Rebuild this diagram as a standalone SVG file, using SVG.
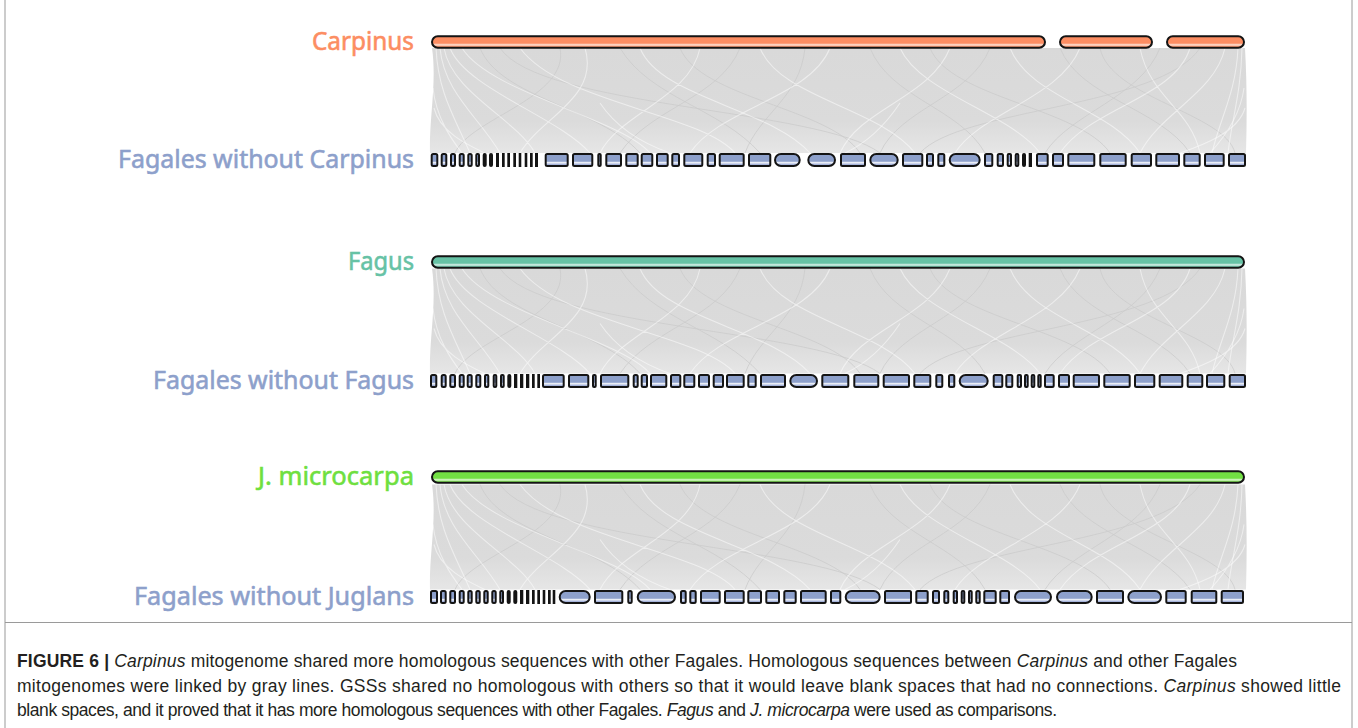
<svg xmlns="http://www.w3.org/2000/svg" width="1358" height="728" viewBox="0 0 1358 728">
<style>
  .lab{font-family:"Noto Sans","Open Sans",sans-serif;font-size:26px;text-anchor:end;stroke-width:.6}
  .cap{font-family:"Liberation Sans Narrow","Liberation Sans",Arial,sans-serif;font-size:17.5px;fill:#231f20}
  .s{fill:url(#gB);stroke:#141414;stroke-width:2}
  .chr{stroke:#141414;stroke-width:2}
  .lw{fill:none;stroke:#ffffff;stroke-width:1.1;stroke-opacity:.5}
  .lg{fill:none;stroke:#cbcbcb;stroke-width:.8}
  .frame{fill:none;stroke:#9a9a9a;stroke-width:1}
</style>
<defs>
  <linearGradient id="gB" x1="0" y1="0" x2="0" y2="1">
    <stop offset="0" stop-color="#8da0cb"/>
    <stop offset="0.6" stop-color="#8da0cb"/>
    <stop offset="0.72" stop-color="#f4f6fb"/>
    <stop offset="0.86" stop-color="#a9b6dc"/>
    <stop offset="1" stop-color="#8da0cb"/>
  </linearGradient>
  <linearGradient id="gO" x1="0" y1="0" x2="0" y2="1">
    <stop offset="0" stop-color="#fc8d62"/>
    <stop offset="0.6" stop-color="#fc8d62"/>
    <stop offset="0.75" stop-color="#fde3d8"/>
    <stop offset="0.88" stop-color="#fc9d78"/>
    <stop offset="1" stop-color="#fc8d62"/>
  </linearGradient>
  <linearGradient id="gG" x1="0" y1="0" x2="0" y2="1">
    <stop offset="0" stop-color="#66c2a5"/>
    <stop offset="0.6" stop-color="#66c2a5"/>
    <stop offset="0.75" stop-color="#dbf1ea"/>
    <stop offset="0.88" stop-color="#7ccbb2"/>
    <stop offset="1" stop-color="#66c2a5"/>
  </linearGradient>
  <linearGradient id="gJ" x1="0" y1="0" x2="0" y2="1">
    <stop offset="0" stop-color="#72e043"/>
    <stop offset="0.6" stop-color="#72e043"/>
    <stop offset="0.75" stop-color="#e0f8d6"/>
    <stop offset="0.88" stop-color="#86e45c"/>
    <stop offset="1" stop-color="#72e043"/>
  </linearGradient>
  <linearGradient id="gL" x1="0" y1="0" x2="0" y2="1">
    <stop offset="0" stop-color="#d9d9d9"/>
    <stop offset="0.7" stop-color="#dbdbdb"/>
    <stop offset="1" stop-color="#e6e6e6"/>
  </linearGradient>
  <!-- one band of homology links, 105 px tall, reused between each pair of tracks -->
  <g id="band">
    <path fill="url(#gL)" d="M432 0H1245C1247 35 1247 70 1246 105H430C429 70 437 35 432 0Z"/>
    <path class="lg" d="M480 0C500 50 600 60 640 105M560 0C570 50 470 70 455 105M680 0C700 50 830 60 860 105M740 0C720 50 650 60 620 105M870 0C890 50 960 60 985 105M990 0C970 50 900 60 880 105M1060 0C1080 50 1160 60 1190 105M1160 0C1140 50 1070 65 1045 105M620 0C650 50 720 60 760 105M805 0C800 50 760 65 745 105M930 0C950 50 1080 60 1110 105M1100 0C1110 50 1225 65 1235 105M500 0C540 60 820 60 880 105M1200 0C1160 60 960 60 920 105"/>
    <path class="lw" d="M436 0C438 45 455 70 470 105M440 0C444 45 480 70 500 105M444 0C452 45 515 70 535 105M450 0C465 40 560 70 590 105M462 0C490 45 620 70 650 105M520 0C560 55 700 65 735 105M585 0C600 50 540 70 520 105M640 0C660 50 770 60 810 105M700 0C690 50 620 65 600 105M760 0C780 50 880 60 915 105M830 0C810 50 720 60 690 105M900 0C920 45 1010 65 1040 105M950 0C930 50 860 60 840 105M1010 0C1030 50 1110 60 1140 105M1080 0C1060 50 980 65 955 105M1140 0C1150 50 1190 60 1200 105M1190 0C1175 50 1090 60 1060 105M1238 0C1236 45 1220 70 1212 105M1242 0C1241 45 1232 70 1228 105M1225 0C1215 45 1160 65 1140 105"/>
    <path class="lw" stroke-opacity=".4" d="M433 40C436 70 452 92 462 105M434 60C440 85 470 98 485 105M1244 40C1240 70 1222 92 1210 105M1245 60C1238 85 1200 98 1180 105M600 55C620 85 650 98 670 105M900 55C880 85 860 98 845 105"/>
  </g>
</defs>

<!-- page frame and caption rule -->
<rect class="frame" x="5" y="-2" width="1347" height="732"/>
<line class="frame" x1="5" y1="622.5" x2="1352" y2="622.5"/>

<!-- homology links -->
<g id="links">
  <use href="#band" transform="translate(0,48)"/>
  <use href="#band" transform="translate(0,268.5)"/>
  <use href="#band" transform="translate(0,484.5)"/>
</g>

<!-- Carpinus -->
<g id="carpinus">
  <text class="lab" x="414" y="50" fill="#fc8d62" stroke="#fc8d62" textLength="102" lengthAdjust="spacingAndGlyphs">Carpinus</text>
  <rect class="chr" fill="url(#gO)" x="432" y="36.25" width="613" height="11.5" rx="5.75"/>
  <rect class="chr" fill="url(#gO)" x="1060" y="36.25" width="92" height="11.5" rx="5.75"/>
  <rect class="chr" fill="url(#gO)" x="1167" y="36.25" width="77" height="11.5" rx="5.75"/>
</g>

<!-- Fagales without Carpinus -->
<g id="fagales-without-carpinus">
  <text class="lab" x="414" y="168" fill="#8da0cb" stroke="#8da0cb" textLength="296" lengthAdjust="spacingAndGlyphs">Fagales without Carpinus</text>
  <g transform="translate(0,154)">
    <rect class="s" x="431.7" width="5.6" height="12" rx="1.5"/>
    <rect class="s" x="441.7" width="4.6" height="12" rx="1.5"/>
    <rect class="s" x="451" width="4" height="12" rx="1.5"/>
    <rect class="s" x="459.7" width="4" height="12" rx="1.5"/>
    <rect class="s" x="468.3" width="3.4" height="12" rx="1.5"/>
    <rect class="s" x="476.3" width="2.7" height="12" rx="1"/>
    <rect class="s" x="483.7" width="2" height="12" rx="1"/>
    <rect class="s" x="490" width="2" height="12" rx="1"/>
    <rect class="s" x="497" width="1" height="12"/>
    <rect class="s" x="503" width="0.7" height="12"/>
    <rect class="s" x="508.3" width="0.7" height="12"/>
    <rect class="s" x="514.3" width="0.7" height="12"/>
    <rect class="s" x="519.7" width="0.6" height="12"/>
    <rect class="s" x="525.7" width="0.6" height="12"/>
    <rect class="s" x="531" width="0.7" height="12"/>
    <rect class="s" x="536" width="1" height="12"/>
    <rect class="s" x="545.7" width="22" height="12" rx="1.5"/>
    <rect class="s" x="573" width="19.3" height="12" rx="1.5"/>
    <rect class="s" x="598.3" width="2.4" height="12" rx="1"/>
    <rect class="s" x="606.3" width="14.7" height="12" rx="1.5"/>
    <rect class="s" x="626.3" width="11.4" height="12" rx="1.5"/>
    <rect class="s" x="641.7" width="10.6" height="12" rx="1.5"/>
    <rect class="s" x="657" width="10.7" height="12" rx="1.5"/>
    <rect class="s" x="672.3" width="6.7" height="12" rx="1.5"/>
    <rect class="s" x="684.3" width="18" height="12" rx="1.5"/>
    <rect class="s" x="707.7" width="7.3" height="12" rx="1.5"/>
    <rect class="s" x="719.7" width="24" height="12" rx="1.5"/>
    <rect class="s" x="749" width="21.3" height="12" rx="1.5"/>
    <rect class="s" x="775" width="24.7" height="12" rx="6"/>
    <rect class="s" x="808.3" width="26.7" height="12" rx="6"/>
    <rect class="s" x="841" width="24" height="12" rx="1.5"/>
    <rect class="s" x="870.3" width="27.4" height="12" rx="6"/>
    <rect class="s" x="903" width="19.3" height="12" rx="1.5"/>
    <rect class="s" x="927" width="6" height="12" rx="1.5"/>
    <rect class="s" x="938.3" width="6" height="12" rx="1.5"/>
    <rect class="s" x="949.7" width="30" height="12" rx="6"/>
    <rect class="s" x="985" width="7.3" height="12" rx="1.5"/>
    <rect class="s" x="997.7" width="5.3" height="12" rx="1.5"/>
    <rect class="s" x="1007.7" width="3.3" height="12" rx="1"/>
    <rect class="s" x="1015.7" width="2.6" height="12" rx="1"/>
    <rect class="s" x="1023" width="2" height="12" rx="1"/>
    <rect class="s" x="1029.7" width="1.3" height="12"/>
    <rect class="s" x="1037" width="10.7" height="12" rx="1.5"/>
    <rect class="s" x="1053" width="10" height="12" rx="1.5"/>
    <rect class="s" x="1068.3" width="26" height="12" rx="1.5"/>
    <rect class="s" x="1100.3" width="25.4" height="12" rx="1.5"/>
    <rect class="s" x="1131.7" width="19.3" height="12" rx="1.5"/>
    <rect class="s" x="1156.3" width="22.7" height="12" rx="1.5"/>
    <rect class="s" x="1184.3" width="15.4" height="12" rx="1.5"/>
    <rect class="s" x="1205" width="18.7" height="12" rx="1.5"/>
    <rect class="s" x="1229" width="16" height="12" rx="1.5"/>
  </g>
</g>

<!-- Fagus -->
<g id="fagus">
  <text class="lab" x="414" y="270" fill="#66c2a5" stroke="#66c2a5" textLength="66" lengthAdjust="spacingAndGlyphs">Fagus</text>
  <rect class="chr" fill="url(#gG)" x="432" y="256.25" width="812" height="11.5" rx="5.75"/>
</g>

<!-- Fagales without Fagus -->
<g id="fagales-without-fagus">
  <text class="lab" x="414" y="389" fill="#8da0cb" stroke="#8da0cb" textLength="261" lengthAdjust="spacingAndGlyphs">Fagales without Fagus</text>
  <g transform="translate(0,375)">
    <rect class="s" x="431" width="5.3" height="12" rx="1.5"/>
    <rect class="s" x="441.7" width="4" height="12" rx="1.5"/>
    <rect class="s" x="450.3" width="4.7" height="12" rx="1.5"/>
    <rect class="s" x="459.7" width="4" height="12" rx="1.5"/>
    <rect class="s" x="467.7" width="4" height="12" rx="1.5"/>
    <rect class="s" x="476.3" width="4" height="12" rx="1.5"/>
    <rect class="s" x="485" width="3.3" height="12" rx="1"/>
    <rect class="s" x="493.7" width="2.6" height="12" rx="1"/>
    <rect class="s" x="501" width="2.7" height="12" rx="1"/>
    <rect class="s" x="508.3" width="2" height="12" rx="1"/>
    <rect class="s" x="515" width="1.3" height="12"/>
    <rect class="s" x="521" width="1.3" height="12"/>
    <rect class="s" x="527" width="1.3" height="12"/>
    <rect class="s" x="533" width="0.7" height="12"/>
    <rect class="s" x="538.3" width="0.7" height="12"/>
    <rect class="s" x="543" width="20.7" height="12" rx="1.5"/>
    <rect class="s" x="569" width="19.3" height="12" rx="1.5"/>
    <rect class="s" x="593" width="2.7" height="12" rx="1"/>
    <rect class="s" x="601" width="27.3" height="12" rx="1.5"/>
    <rect class="s" x="633.7" width="4" height="12" rx="1.5"/>
    <rect class="s" x="641.7" width="5.3" height="12" rx="1.5"/>
    <rect class="s" x="651" width="15.3" height="12" rx="1.5"/>
    <rect class="s" x="671" width="9.3" height="12" rx="1.5"/>
    <rect class="s" x="684.3" width="10" height="12" rx="1.5"/>
    <rect class="s" x="699" width="10" height="12" rx="1.5"/>
    <rect class="s" x="713.7" width="9.3" height="12" rx="1.5"/>
    <rect class="s" x="727" width="16.7" height="12" rx="1.5"/>
    <rect class="s" x="748.3" width="7.4" height="12" rx="1.5"/>
    <rect class="s" x="761" width="24" height="12" rx="1.5"/>
    <rect class="s" x="790.3" width="26.7" height="12" rx="6"/>
    <rect class="s" x="822.3" width="26" height="12" rx="1.5"/>
    <rect class="s" x="854.3" width="24" height="12" rx="1.5"/>
    <rect class="s" x="883.7" width="25.3" height="12" rx="1.5"/>
    <rect class="s" x="914.3" width="16" height="12" rx="1.5"/>
    <rect class="s" x="936.3" width="6" height="12" rx="1.5"/>
    <rect class="s" x="949" width="5.3" height="12" rx="1.5"/>
    <rect class="s" x="959.7" width="28" height="12" rx="6"/>
    <rect class="s" x="993.7" width="8.6" height="12" rx="1.5"/>
    <rect class="s" x="1006.3" width="6" height="12" rx="1.5"/>
    <rect class="s" x="1017.7" width="3.3" height="12" rx="1"/>
    <rect class="s" x="1025" width="2.7" height="12" rx="1"/>
    <rect class="s" x="1031.7" width="2.6" height="12" rx="1"/>
    <rect class="s" x="1038.3" width="2.4" height="12" rx="1"/>
    <rect class="s" x="1045" width="8.7" height="12" rx="1.5"/>
    <rect class="s" x="1059" width="10" height="12" rx="1.5"/>
    <rect class="s" x="1073.7" width="25.3" height="12" rx="1.5"/>
    <rect class="s" x="1104.3" width="25.4" height="12" rx="1.5"/>
    <rect class="s" x="1135" width="19.3" height="12" rx="1.5"/>
    <rect class="s" x="1159.7" width="22.6" height="12" rx="1.5"/>
    <rect class="s" x="1187.7" width="14.6" height="12" rx="1.5"/>
    <rect class="s" x="1207" width="17.3" height="12" rx="1.5"/>
    <rect class="s" x="1229.7" width="15.3" height="12" rx="1.5"/>
  </g>
</g>

<!-- J. microcarpa -->
<g id="j-microcarpa">
  <text class="lab" x="414" y="485" fill="#6fdf3f" stroke="#6fdf3f" textLength="156" lengthAdjust="spacingAndGlyphs">J. microcarpa</text>
  <rect class="chr" fill="url(#gJ)" x="432" y="471.25" width="812" height="11.5" rx="5.75"/>
</g>

<!-- Fagales without Juglans -->
<g id="fagales-without-juglans">
  <text class="lab" x="414" y="605" fill="#8da0cb" stroke="#8da0cb" textLength="280" lengthAdjust="spacingAndGlyphs">Fagales without Juglans</text>
  <g transform="translate(0,591)">
    <rect class="s" x="431" width="6" height="12" rx="1.5"/>
    <rect class="s" x="441" width="4.7" height="12" rx="1.5"/>
    <rect class="s" x="450.3" width="4.7" height="12" rx="1.5"/>
    <rect class="s" x="459.7" width="4" height="12" rx="1.5"/>
    <rect class="s" x="468.3" width="3.4" height="12" rx="1.5"/>
    <rect class="s" x="476.3" width="3.4" height="12" rx="1.5"/>
    <rect class="s" x="484.3" width="3.4" height="12" rx="1.5"/>
    <rect class="s" x="492.3" width="3.4" height="12" rx="1.5"/>
    <rect class="s" x="500.3" width="2.7" height="12" rx="1"/>
    <rect class="s" x="507.7" width="2" height="12" rx="1"/>
    <rect class="s" x="514.3" width="2" height="12" rx="1"/>
    <rect class="s" x="521" width="1.3" height="12"/>
    <rect class="s" x="527" width="1.3" height="12"/>
    <rect class="s" x="533" width="0.7" height="12"/>
    <rect class="s" x="538.3" width="0.7" height="12"/>
    <rect class="s" x="543.7" width="0.6" height="12"/>
    <rect class="s" x="549" width="0.7" height="12"/>
    <rect class="s" x="553.7" width="0.6" height="12"/>
    <rect class="s" x="559.7" width="30" height="12" rx="6"/>
    <rect class="s" x="595" width="27.3" height="12" rx="1.5"/>
    <rect class="s" x="628.3" width="3.4" height="12" rx="1.5"/>
    <rect class="s" x="637.7" width="37.3" height="12" rx="6"/>
    <rect class="s" x="681" width="4.7" height="12" rx="1.5"/>
    <rect class="s" x="690.3" width="5.4" height="12" rx="1.5"/>
    <rect class="s" x="701" width="18.7" height="12" rx="1.5"/>
    <rect class="s" x="725" width="18.7" height="12" rx="1.5"/>
    <rect class="s" x="748.3" width="12.7" height="12" rx="1.5"/>
    <rect class="s" x="766.3" width="12.7" height="12" rx="1.5"/>
    <rect class="s" x="784.3" width="11.4" height="12" rx="1.5"/>
    <rect class="s" x="801" width="24.7" height="12" rx="1.5"/>
    <rect class="s" x="831" width="9.3" height="12" rx="1.5"/>
    <rect class="s" x="845.7" width="34" height="12" rx="6"/>
    <rect class="s" x="885" width="26" height="12" rx="1.5"/>
    <rect class="s" x="916.3" width="11.4" height="12" rx="1.5"/>
    <rect class="s" x="933" width="6" height="12" rx="1.5"/>
    <rect class="s" x="944.3" width="4" height="12" rx="1.5"/>
    <rect class="s" x="953.7" width="3.3" height="12" rx="1"/>
    <rect class="s" x="961.7" width="2.6" height="12" rx="1"/>
    <rect class="s" x="969" width="2.7" height="12" rx="1"/>
    <rect class="s" x="976.3" width="3.4" height="12" rx="1.5"/>
    <rect class="s" x="984.3" width="11.4" height="12" rx="1.5"/>
    <rect class="s" x="1000.3" width="8.7" height="12" rx="1.5"/>
    <rect class="s" x="1015" width="36" height="12" rx="6"/>
    <rect class="s" x="1057" width="34.7" height="12" rx="6"/>
    <rect class="s" x="1097" width="26" height="12" rx="1.5"/>
    <rect class="s" x="1128.3" width="32.7" height="12" rx="6"/>
    <rect class="s" x="1166.3" width="19.4" height="12" rx="1.5"/>
    <rect class="s" x="1191.7" width="24.6" height="12" rx="1.5"/>
    <rect class="s" x="1221.7" width="21.3" height="12" rx="1.5"/>
  </g>
</g>

<!-- caption -->
<g id="caption">
  <text class="cap" x="17" y="667" textLength="1220" lengthAdjust="spacing"><tspan font-weight="bold">FIGURE 6 |</tspan> <tspan font-style="italic">Carpinus</tspan> mitogenome shared more homologous sequences with other Fagales. Homologous sequences between <tspan font-style="italic">Carpinus</tspan> and other Fagales</text>
  <text class="cap" x="17" y="692" textLength="1324" lengthAdjust="spacing">mitogenomes were linked by gray lines. GSSs shared no homologous with others so that it would leave blank spaces that had no connections. <tspan font-style="italic">Carpinus</tspan> showed little</text>
  <text class="cap" x="17" y="716" textLength="1040" lengthAdjust="spacing">blank spaces, and it proved that it has more homologous sequences with other Fagales. <tspan font-style="italic">Fagus</tspan> and <tspan font-style="italic">J. microcarpa</tspan> were used as comparisons.</text>
</g>
</svg>
